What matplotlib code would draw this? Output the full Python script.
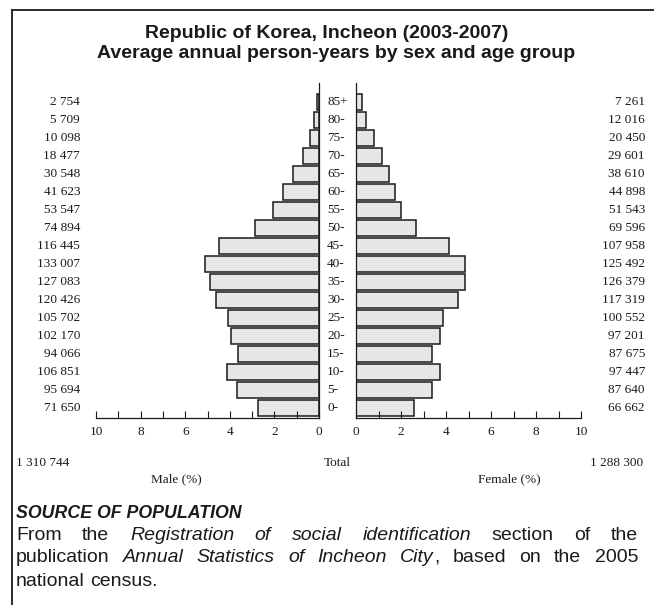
import numpy as np
import matplotlib.pyplot as plt
from matplotlib.transforms import blended_transform_factory
from matplotlib.lines import Line2D

ages = ['0-', '5-', '10-', '15-', '20-', '25-', '30-', '35-', '40-',
        '45-', '50-', '55-', '60-', '65-', '70-', '75-', '80-', '85+']
male = [71650, 95694, 106851, 94066, 102170, 105702, 120426, 127083, 133007,
        116445, 74894, 53547, 41623, 30548, 18477, 10098, 5709, 2754]
female = [66662, 87640, 97447, 87675, 97201, 100552, 117319, 126379, 125492,
          107958, 69596, 51543, 44898, 38610, 29601, 20450, 12016, 7261]
male_total = '1 310 744'
female_total = '1 288 300'

def fmt(v):
    return '{:,}'.format(v).replace(',', ' ')

total = sum(male) + sum(female)
male_pct = np.array(male) / total * 100
female_pct = np.array(female) / total * 100
y = np.arange(len(ages))

W, H = 654, 605
fig = plt.figure(figsize=(W / 100, H / 100), dpi=100)
serif = 'Liberation Serif'
sans = 'Liberation Sans'
ink = '#1a1a1a'

def fx(px):
    return px / W

def fy(py):
    return 1 - py / H

bot, top = fy(418), fy(83)
axm = fig.add_axes([fx(96), bot, fx(319) - fx(96), top - bot])
axf = fig.add_axes([fx(356), bot, fx(581) - fx(356), top - bot])

bar_kw = dict(height=0.85, color='#e6e6e6', edgecolor=ink, linewidth=1.1)
axm.barh(y, male_pct, **bar_kw)
axf.barh(y, female_pct, **bar_kw)

for ax in (axm, axf):
    ax.set_xlim(0, 10)
    ax.set_ylim(-0.556, 18.056)
    ax.set_xticks(np.arange(0, 11, 2))
    ax.set_xticks(np.arange(0, 11, 1), minor=True)
    ax.tick_params(axis='x', which='both', direction='in', length=5, width=0.8,
                   labelsize=9.5, pad=6, colors=ink)
    ax.set_yticks([])
    ax.spines['top'].set_visible(False)
    for lab in ax.get_xticklabels():
        lab.set_fontfamily(serif)
    for sp in ax.spines.values():
        sp.set_linewidth(0.9)
        sp.set_color(ink)
axm.invert_xaxis()
axm.spines['left'].set_visible(False)
axf.spines['right'].set_visible(False)

tr = blended_transform_factory(fig.transFigure, axm.transData)
txt = dict(fontfamily=serif, fontsize=9.5, color=ink, va='center')
for i in range(len(ages)):
    fig.text(fx(80), 0, fmt(male[i]), ha='right', transform=tr, **txt).set_y(y[i])
    fig.text(fx(327), 0, ages[i], ha='left', transform=tr, **txt).set_y(y[i])
    fig.text(fx(645), 0, fmt(female[i]), ha='right', transform=tr, **txt).set_y(y[i])

fig.text(fx(16), fy(463), male_total, ha='left', **txt)
fig.text(fx(337), fy(463), 'Total', ha='center', **txt)
fig.text(fx(643), fy(463), female_total, ha='right', **txt)
fig.text(fx(176), fy(479), 'Male (%)', ha='center', **txt)
fig.text(fx(509), fy(479), 'Female (%)', ha='center', **txt)

title_kw = dict(ha='center', va='center', fontfamily=sans, fontweight='bold',
                fontsize=14, color=ink)
fig.text(fx(327), fy(33), 'Republic of Korea, Incheon (2003-2007)', **title_kw)
fig.text(fx(336), fy(53), 'Average annual person-years by sex and age group', **title_kw)

# frame
fig.add_artist(Line2D([fx(12), 1], [fy(10), fy(10)], color=ink, lw=1.3))
fig.add_artist(Line2D([fx(12), fx(12)], [fy(10), 0], color=ink, lw=1.3))

fig.text(fx(16), fy(513), 'SOURCE OF POPULATION', ha='left', va='center', fontfamily=sans,
         fontweight='bold', fontstyle='italic', fontsize=12.8, color=ink)

body = [
    ([[('From', 'normal')], [('the', 'normal')], [('Registration', 'italic')], [('of', 'italic')],
      [('social', 'italic')], [('identification', 'italic')], [('section', 'normal')],
      [('of', 'normal')], [('the', 'normal')]], 535, True),
    ([[('publication', 'normal')], [('Annual', 'italic')], [('Statistics', 'italic')],
      [('of', 'italic')], [('Incheon', 'italic')], [('City', 'italic'), (',', 'normal')],
      [('based', 'normal')], [('on', 'normal')], [('the', 'normal')], [('2005', 'normal')]], 558, True),
    ([[('national', 'normal')], [('census.', 'normal')]], 581, False),
]
body_size = 14
renderer = fig.canvas.get_renderer()
x0, x1 = 16, 638
for words, py, justify in body:
    arts = []
    widths = []
    for word in words:
        wa = []
        ww = 0
        for s, st in word:
            t = fig.text(0, fy(py), s, ha='left', va='center', fontfamily=sans,
                         fontstyle=st, fontsize=body_size, color=ink)
            w = t.get_window_extent(renderer).width
            wa.append((t, ww))
            ww += w
        arts.append(wa)
        widths.append(ww)
    sp = fig.text(0, 0, 'a b', fontfamily=sans, fontsize=body_size)
    sp2 = fig.text(0, 0, 'ab', fontfamily=sans, fontsize=body_size)
    gap = sp.get_window_extent(renderer).width - sp2.get_window_extent(renderer).width
    sp.remove()
    sp2.remove()
    if justify:
        gap = max(gap * 0.6, (x1 - x0 - sum(widths)) / (len(words) - 1))
    x = x0
    for wa, ww in zip(arts, widths):
        for t, off in wa:
            t.set_x(fx(x + off))
        x += ww + gap

fig.savefig('out.png', dpi=100)
